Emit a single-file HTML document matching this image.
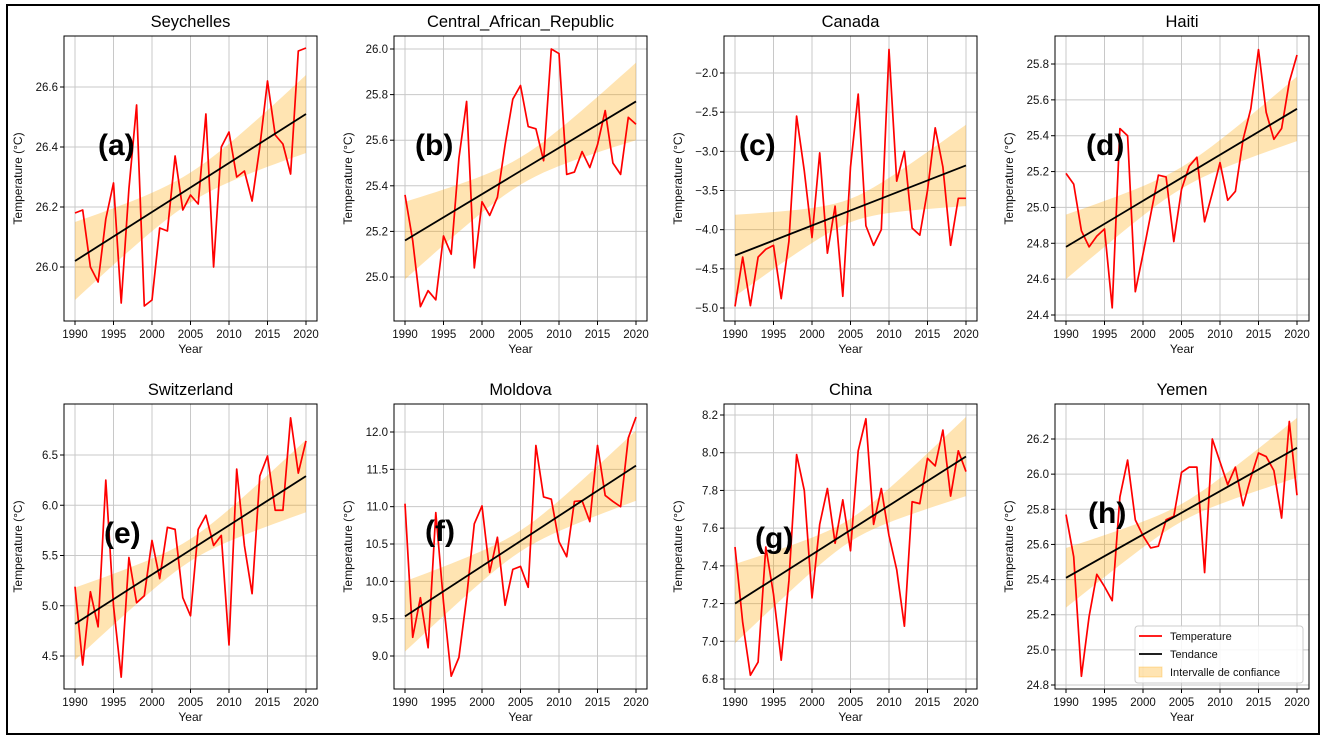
<!DOCTYPE html>
<html><head><meta charset="utf-8">
<style>
html,body{margin:0;padding:0;background:#fff;}
svg text{font-family:"Liberation Sans","DejaVu Sans",sans-serif;}
</style></head>
<body>
<svg id="fig" width="1325" height="741" viewBox="0 0 1325 741" xmlns="http://www.w3.org/2000/svg">
<rect x="7" y="5" width="1312" height="729" fill="none" stroke="#000" stroke-width="2"/>
</svg>
<script>
const years = [];
for (let y = 1990; y <= 2020; y++) years.push(y);
const xTicks = [1990, 1995, 2000, 2005, 2010, 2015, 2020];

const seychellesTemps = [26.18,26.19,26.0,25.95,26.16,26.28,25.88,26.26,26.54,25.87,25.89,26.13,26.12,26.37,26.19,26.24,26.21,26.51,26.0,26.4,26.45,26.3,26.32,26.22,26.4,26.62,26.44,26.41,26.31,26.72,26.73];
const carTemps = [25.36,25.16,24.87,24.94,24.90,25.18,25.10,25.52,25.77,25.04,25.33,25.27,25.35,25.58,25.78,25.84,25.66,25.65,25.51,26.0,25.98,25.45,25.46,25.55,25.48,25.58,25.73,25.50,25.45,25.70,25.67];
const canadaTemps = [-4.98,-4.35,-4.97,-4.35,-4.25,-4.2,-4.88,-4.15,-2.55,-3.25,-4.1,-3.02,-4.3,-3.7,-4.85,-3.2,-2.27,-3.95,-4.2,-4.0,-1.7,-3.38,-3.0,-3.98,-4.07,-3.5,-2.7,-3.2,-4.2,-3.6,-3.6];
const haitiTemps = [25.19,25.13,24.87,24.78,24.84,24.88,24.44,25.44,25.40,24.53,24.74,24.96,25.18,25.17,24.81,25.10,25.23,25.28,24.92,25.08,25.25,25.04,25.09,25.38,25.55,25.88,25.53,25.38,25.44,25.70,25.85];
const switzerlandTemps = [5.19,4.41,5.14,4.79,6.25,5.0,4.29,5.48,5.03,5.10,5.65,5.27,5.78,5.76,5.08,4.90,5.76,5.90,5.60,5.70,4.61,6.36,5.60,5.12,6.29,6.49,5.95,5.95,6.87,6.32,6.64];
const moldovaTemps = [11.04,9.25,9.78,9.11,10.92,9.72,8.73,8.98,9.78,10.77,11.01,10.12,10.59,9.68,10.16,10.20,9.92,11.82,11.13,11.10,10.53,10.33,11.07,11.08,10.80,11.82,11.15,11.07,11.00,11.92,12.20];
const chinaTemps = [7.50,7.10,6.82,6.89,7.50,7.25,6.90,7.32,7.99,7.80,7.23,7.62,7.81,7.52,7.75,7.48,8.01,8.18,7.62,7.81,7.56,7.38,7.08,7.74,7.73,7.97,7.93,8.12,7.77,8.01,7.90];
const yemenTemps = [25.77,25.53,24.85,25.19,25.43,25.36,25.28,25.87,26.08,25.74,25.65,25.58,25.59,25.74,25.76,26.01,26.04,26.04,25.44,26.2,26.07,25.94,26.04,25.82,25.98,26.12,26.10,26.02,25.75,26.30,25.88];

// trend start/end values and CI half-widths (end, center)
const trendStart = [26.02, 25.16, -4.33, 24.78, 4.82, 9.53, 7.20, 25.41];
const trendEnd   = [26.51, 25.77, -3.18, 25.55, 6.29, 11.55, 7.98, 26.15];
const ciEnd      = [0.13, 0.17, 0.52, 0.18, 0.36, 0.47, 0.21, 0.17];
const ciCenter   = [0.05, 0.06, 0.15, 0.06, 0.11, 0.14, 0.06, 0.05];

const titles = ["Seychelles","Central_African_Republic","Canada","Haiti","Switzerland","Moldova","China","Yemen"];
const letters = ["(a)","(b)","(c)","(d)","(e)","(f)","(g)","(h)"];
const yTicks = [
  [26.0,26.2,26.4,26.6],
  [25.0,25.2,25.4,25.6,25.8,26.0],
  [-5.0,-4.5,-4.0,-3.5,-3.0,-2.5,-2.0],
  [24.4,24.6,24.8,25.0,25.2,25.4,25.6,25.8],
  [4.5,5.0,5.5,6.0,6.5],
  [9.0,9.5,10.0,10.5,11.0,11.5,12.0],
  [6.8,7.0,7.2,7.4,7.6,7.8,8.0,8.2],
  [24.8,25.0,25.2,25.4,25.6,25.8,26.0,26.2]
];
const series = [seychellesTemps,carTemps,canadaTemps,haitiTemps,switzerlandTemps,moldovaTemps,chinaTemps,yemenTemps];

// layout (pixels)
const layout = [
  {L:64,R:317,T:36,B:321,x0:75,x1:306,v1:26.0,p1:267,v2:26.6,p2:87,lx:98,ly:155},
  {L:394,R:647,T:36,B:321,x0:405,x1:636,v1:25.0,p1:277,v2:26.0,p2:49,lx:415,ly:155},
  {L:724,R:977,T:36,B:321,x0:735,x1:966,v1:-5.0,p1:308,v2:-2.0,p2:73,lx:739,ly:155},
  {L:1055,R:1309,T:36,B:321,x0:1066,x1:1297,v1:24.4,p1:315,v2:25.8,p2:64,lx:1086,ly:155},
  {L:64,R:317,T:404,B:689,x0:75,x1:306,v1:4.5,p1:656,v2:6.5,p2:455,lx:104,ly:543},
  {L:394,R:647,T:404,B:689,x0:405,x1:636,v1:9.0,p1:656,v2:12.0,p2:432,lx:425,ly:541},
  {L:724,R:977,T:404,B:689,x0:735,x1:966,v1:6.8,p1:679,v2:8.2,p2:415,lx:755,ly:548},
  {L:1055,R:1309,T:404,B:689,x0:1066,x1:1297,v1:24.8,p1:685,v2:26.2,p2:439,lx:1088,ly:523}
];

const NS = "http://www.w3.org/2000/svg";
const svg = document.getElementById('fig');
function mk(tag, attrs, parent){
  const e = document.createElementNS(NS, tag);
  for (const k in attrs) e.setAttribute(k, attrs[k]);
  (parent||svg).appendChild(e);
  return e;
}

for (let i = 0; i < 8; i++) {
  const g0 = layout[i];
  const data = series[i];
  const xs = v => g0.x0 + (v - 1990) * (g0.x1 - g0.x0) / 30;
  const ys = v => g0.p1 + (v - g0.v1) * (g0.p2 - g0.p1) / (g0.v2 - g0.v1);
  const g = mk('g', {});
  
  

  const bg = mk('rect', {x:g0.L, y:g0.T, width:g0.R-g0.L, height:g0.B-g0.T, fill:'#fff'}, g);
  
  

  // grid
  xTicks.forEach(t => {
    const l = mk('line', {x1:xs(t), x2:xs(t), y1:g0.T, y2:g0.B, stroke:'#c8c8c8', 'stroke-width':1}, g);
    
    
  });
  yTicks[i].forEach(t => {
    const l = mk('line', {x1:g0.L, x2:g0.R, y1:ys(t), y2:ys(t), stroke:'#c8c8c8', 'stroke-width':1}, g);
    
    
  });

  // CI band
  const trend = y => trendStart[i] + (trendEnd[i] - trendStart[i]) * (y - 1990) / 30;
  const hw = y => { const u = (y - 2005) / 15; return Math.sqrt(ciCenter[i]*ciCenter[i] + (ciEnd[i]*ciEnd[i] - ciCenter[i]*ciCenter[i]) * u * u); };
  let up = [], dn = [];
  years.forEach(y => { up.push(xs(y)+','+ys(trend(y)+hw(y))); dn.unshift(xs(y)+','+ys(trend(y)-hw(y))); });
  const band = mk('polygon', {points: up.concat(dn).join(' '), fill:'#ffa500', 'fill-opacity':0.3, stroke:'none'}, g);
  
  

  // temperature line
  const pts = data.map((v, k) => xs(years[k]) + ',' + ys(v)).join(' ');
  const line = mk('polyline', {points: pts, fill:'none', stroke:'#ff0000', 'stroke-width':1.7, 'stroke-linejoin':'round'}, g);
  
  

  // trend line
  const tl = mk('line', {x1:xs(1990), y1:ys(trendStart[i]), x2:xs(2020), y2:ys(trendEnd[i]), stroke:'#000', 'stroke-width':1.8}, g);
  
  

  // frame
  const fr = mk('rect', {x:g0.L, y:g0.T, width:g0.R-g0.L, height:g0.B-g0.T, fill:'none', stroke:'#000', 'stroke-width':1}, g);
  
  

  // ticks & labels
  xTicks.forEach(t => {
    mk('line', {x1:xs(t), x2:xs(t), y1:g0.B, y2:g0.B+4, stroke:'#000'}, g);
    const tx = mk('text', {x:xs(t), y:g0.B+17, 'font-size':11.5, 'text-anchor':'middle', fill:'#111'}, g);
    tx.textContent = t;
    
    
  });
  yTicks[i].forEach(t => {
    mk('line', {x1:g0.L-4, x2:g0.L, y1:ys(t), y2:ys(t), stroke:'#000'}, g);
    const tx = mk('text', {x:g0.L-6, y:ys(t)+4, 'font-size':11.5, 'text-anchor':'end', fill:'#111'}, g);
    tx.textContent = t.toFixed(1).replace('-', '\u2212');
    
    
  });

  const xt = mk('text', {x:(g0.L+g0.R)/2, y:g0.B+32, 'font-size':12, 'text-anchor':'middle', fill:'#111'}, g);
  xt.textContent = 'Year';
  
  

  const yx = g0.L - 42, yy = (g0.T + g0.B) / 2;
  const yt = mk('text', {x:yx, y:yy, 'font-size':12, 'text-anchor':'middle', fill:'#111', transform:'rotate(-90 '+yx+' '+yy+')'}, g);
  yt.textContent = 'Temperature (°C)';
  
  

  const ti = mk('text', {x:(g0.L+g0.R)/2, y:g0.T-9, 'font-size':16.5, 'text-anchor':'middle', fill:'#000'}, g);
  ti.textContent = titles[i];
  
  

  const lt = mk('text', {x:g0.lx, y:g0.ly, 'font-size':30, 'font-weight':'bold', fill:'#000'}, g);
  lt.textContent = letters[i];
  
  
}

// legend in Yemen panel
const leg = mk('g', {});


mk('rect', {x:1135, y:626, width:168, height:57, rx:3, fill:'#fff', 'fill-opacity':0.85, stroke:'#ccc'}, leg);
const items = [['Temperature','line','#ff0000'],['Tendance','line','#000'],['Intervalle de confiance','patch','#ffa500']];
items.forEach((it, k) => {
  const cy = 636 + k * 18;
  const e = mk('g', {}, leg);
  
  
  if (it[1] === 'line') mk('line', {x1:1139, x2:1162, y1:cy, y2:cy, stroke:it[2], 'stroke-width':1.8}, e);
  else mk('rect', {x:1139, y:cy-5, width:23, height:10, fill:it[2], 'fill-opacity':0.3, stroke:it[2], 'stroke-opacity':0.3}, e);
  const t = mk('text', {x:1170, y:cy+4, 'font-size':11, fill:'#111'}, e);
  t.textContent = it[0];
});
</script>
</body></html>
